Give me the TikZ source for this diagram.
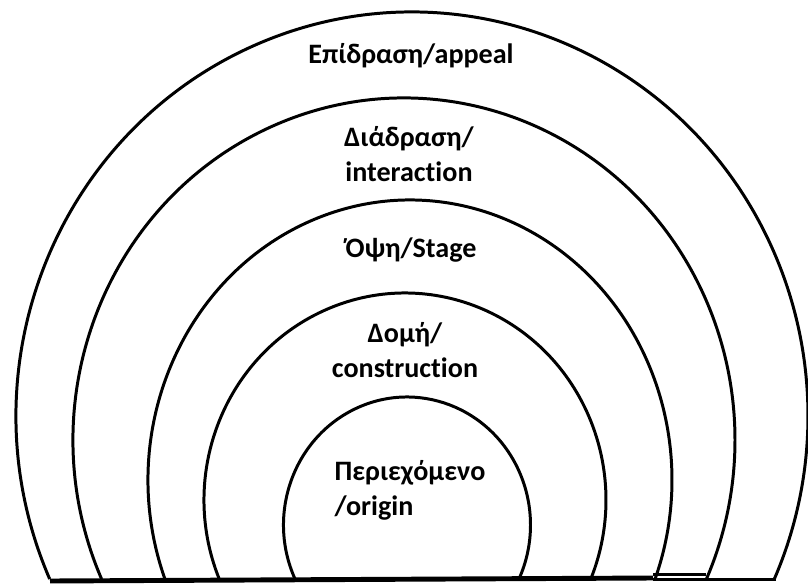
\documentclass[tikz,border=0pt]{standalone}
\usepackage{fontspec}
\setmainfont{Carlito}[Ligatures={NoCommon,NoRare}]
\usepackage{tikz}

\begin{document}
\begin{tikzpicture}[
    x=0.02cm, y=0.02cm,
    ring/.style={draw, line width=1.7pt},
    ground/.style={draw, line width=2.8pt},
    lbl/.style={align=center, inner sep=0pt, font=\bfseries\fontsize{16}{19.8}\selectfont},
]
\useasboundingbox (0,0) rectangle (808,583);

% arches, outer to inner
\draw[ring] (412,167) ++(203.8:396 and 404) arc[start angle=203.8, end angle=-23.8, x radius=396, y radius=404];
\draw[ring] (404,143) ++(204.0:331 and 342) arc[start angle=204.0, end angle=-24.0, x radius=331, y radius=342];
\draw[ring] (410,103) ++(200.7:262 and 280) arc[start angle=200.7, end angle=-20.7, x radius=262, y radius=280];
\draw[ring] (405,83) ++(202.4:201 and 207) arc[start angle=202.4, end angle=-22.4, x radius=201, y radius=207];
\draw[ring] (407,58) ++(204.9:123.5 and 128) arc[start angle=204.9, end angle=-24.9, x radius=123.5, y radius=128];

% base line
\draw[ground] (50,2) -- (653,5);
\draw[ring] (653,4) -- (776,4);
\draw[ring] (653,9) -- (706,9);

\node[lbl] (appeal) at (411,527) {Επίδραση/appeal};
\node[lbl] (interaction) at (409,429) {Διάδραση/\\interaction};
\node[lbl] (stage) at (411,333) {Όψη/Stage};
\node[lbl] (construction) at (405,233) {Δομή/\\construction};
\node[lbl, align=left] (origin) at (410,93) {Περιεχόμενο\\/origin};

\end{tikzpicture}
\end{document}
